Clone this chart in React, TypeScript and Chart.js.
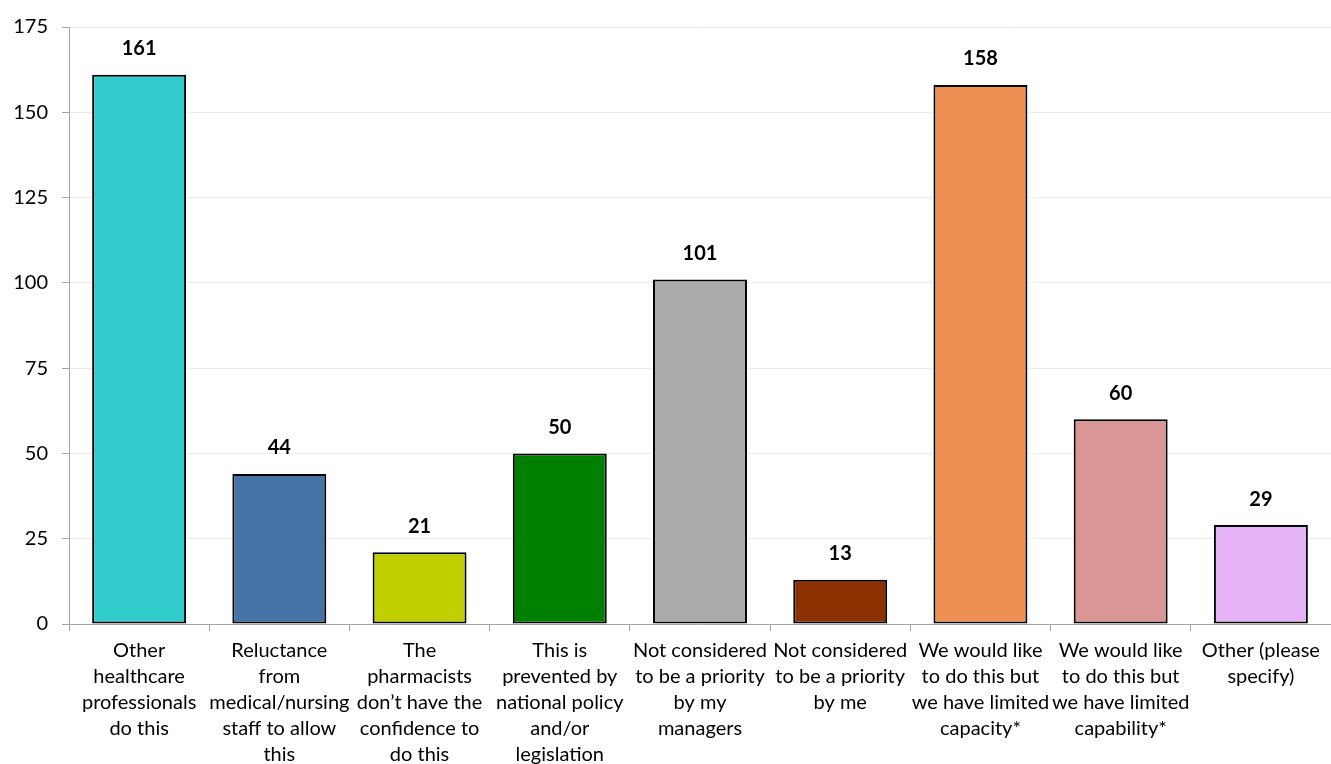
import React, { useEffect, useRef } from "react";
import { Chart, registerables } from "chart.js";

Chart.register(...registerables);

const categories: string[][] = [
  ["Other", "healthcare", "professionals", "do this"],
  ["Reluctance", "from", "medical/nursing", "staff to allow", "this"],
  ["The", "pharmacists", "don\u2019t have the", "confidence to", "do this"],
  ["This is", "prevented by", "national policy", "and/or", "legislation"],
  ["Not considered", "to be a priority", "by my", "managers"],
  ["Not considered", "to be a priority", "by me"],
  ["We would like", "to do this but", "we have limited", "capacity*"],
  ["We would like", "to do this but", "we have limited", "capability*"],
  ["Other (please", "specify)"],
];

const values: number[] = [161, 44, 21, 50, 101, 13, 158, 60, 29];

const barColors: string[] = [
  "#33CCCC",
  "#4673A6",
  "#C1D000",
  "#008000",
  "#AAAAAA",
  "#8E3100",
  "#EF9053",
  "#D99694",
  "#E6B3F7",
];

const yTicks: number[] = [0, 25, 50, 75, 100, 125, 150, 175];

const FONT = "Lato, 'Open Sans', sans-serif";

const valueLabelPlugin = {
  id: "valueLabels",
  afterDatasetsDraw(chart: any) {
    const ctx = chart.ctx;
    const meta = chart.getDatasetMeta(0);
    ctx.save();
    ctx.font = `bold 20px ${FONT}`;
    ctx.fillStyle = "#000";
    ctx.textAlign = "center";
    ctx.textBaseline = "middle";
    meta.data.forEach((bar: any, i: number) => {
      ctx.fillText(String(values[i]), bar.x, bar.y - 26);
    });
    ctx.restore();
  },
};

export default function App() {
  const ref = useRef<HTMLCanvasElement | null>(null);

  useEffect(() => {
    if (!ref.current) return;
    const chart = new Chart(ref.current, {
      type: "bar",
      data: {
        labels: categories,
        datasets: [
          {
            data: values,
            backgroundColor: barColors,
            borderColor: "#000",
            borderWidth: 2,
            borderSkipped: false,
            barPercentage: 0.67,
            categoryPercentage: 1,
          },
        ],
      },
      options: {
        animation: false,
        responsive: true,
        maintainAspectRatio: false,
        layout: { padding: { top: 27, right: 0, left: 0, bottom: 0 } },
        plugins: {
          legend: { display: false },
          tooltip: { enabled: false },
        },
        scales: {
          x: {
            grid: {
              display: true,
              drawOnChartArea: false,
              drawTicks: true,
              tickLength: 7,
              color: "#a6a6a6",
              offset: true,
            },
            border: { color: "#a6a6a6", width: 1 },
            ticks: {
              color: "#000",
              font: { family: FONT, size: 20, lineHeight: 1.3 },
              maxRotation: 0,
              minRotation: 0,
              autoSkip: false,
              padding: 7,
            },
            afterFit(scale: any) {
              scale.height = 140;
            },
          },
          y: {
            min: 0,
            max: 175,
            afterBuildTicks(scale: any) {
              scale.ticks = yTicks.map((v) => ({ value: v }));
            },
            grid: {
              color: "#ececec",
              tickColor: "#a6a6a6",
              tickLength: 7,
              drawTicks: true,
            },
            border: { color: "#a6a6a6", width: 1 },
            ticks: {
              color: "#000",
              font: { family: FONT, size: 20 },
              padding: 14,
            },
            afterFit(scale: any) {
              scale.width = 69;
            },
          },
        },
      },
      plugins: [valueLabelPlugin],
    });
    return () => chart.destroy();
  }, []);

  return (
    <div
      style={{
        position: "fixed",
        left: 0,
        top: 0,
        width: 1331,
        height: 764,
        background: "#fff",
      }}
    >
      <canvas ref={ref} />
    </div>
  );
}
